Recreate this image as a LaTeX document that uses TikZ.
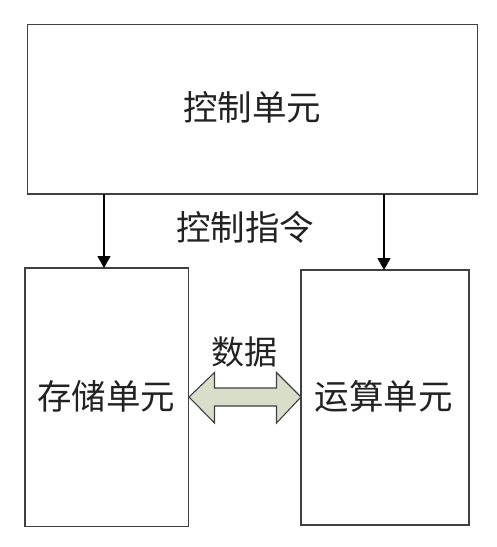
\documentclass[tikz,border=0pt]{standalone}
\usepackage{fontspec}
\newfontfamily\cjk{Noto Sans CJK SC}
\usetikzlibrary{arrows.meta}
\definecolor{boxline}{HTML}{404040}
\definecolor{arrowfill}{HTML}{D8DECA}
\definecolor{txt}{HTML}{222222}
\begin{document}
\begin{tikzpicture}[x=1pt,y=-1pt,
  unitbox/.style={draw=boxline,line width=1.3pt,fill=white},
  lbl/.style={font=\cjk\fontsize{34.5}{34.5}\selectfont,text=txt,inner sep=0pt},
  smalllbl/.style={font=\cjk\fontsize{33}{33}\selectfont,text=txt,inner sep=0pt},
  ctrlarrow/.style={draw=black,line width=1.1pt,-{Triangle[length=12pt,width=13pt]}}]
\useasboundingbox (0,0) rectangle (497,547);
\fill[white] (0,0) rectangle (497,547);
% boxes
\draw[unitbox] (27.5,24.5) rectangle (477.5,194);
\draw[unitbox] (25,268) rectangle (188.5,526.5);
\draw[unitbox] (301,270) rectangle (469,525);
% labels
\node[lbl] (ctrl) at (252,107) {控制单元};
\node[lbl] (cmd) at (245,227) {控制指令};
\node[lbl] (mem) at (106.5,396) {存储单元};
\node[lbl] (alu) at (383.5,396) {运算单元};
\node[smalllbl] (data) at (244.5,352) {数据};
% connectors
\coordinate (a1) at (104,194);
\coordinate (a2) at (104,268);
\coordinate (b1) at (384,194);
\coordinate (b2) at (384,270);
\draw[ctrlarrow] (a1) -- (a2);
\draw[ctrlarrow] (b1) -- (b2);
% double arrow
\draw[draw=boxline,line width=1.1pt,fill=arrowfill,line join=miter]
  (189,397) -- (214.5,372.5) -- (214.5,388) -- (276.5,388) -- (276.5,372.5)
  -- (301,397) -- (276.5,423) -- (276.5,406) -- (214.5,406) -- (214.5,423) -- cycle;
\end{tikzpicture}
\end{document}
